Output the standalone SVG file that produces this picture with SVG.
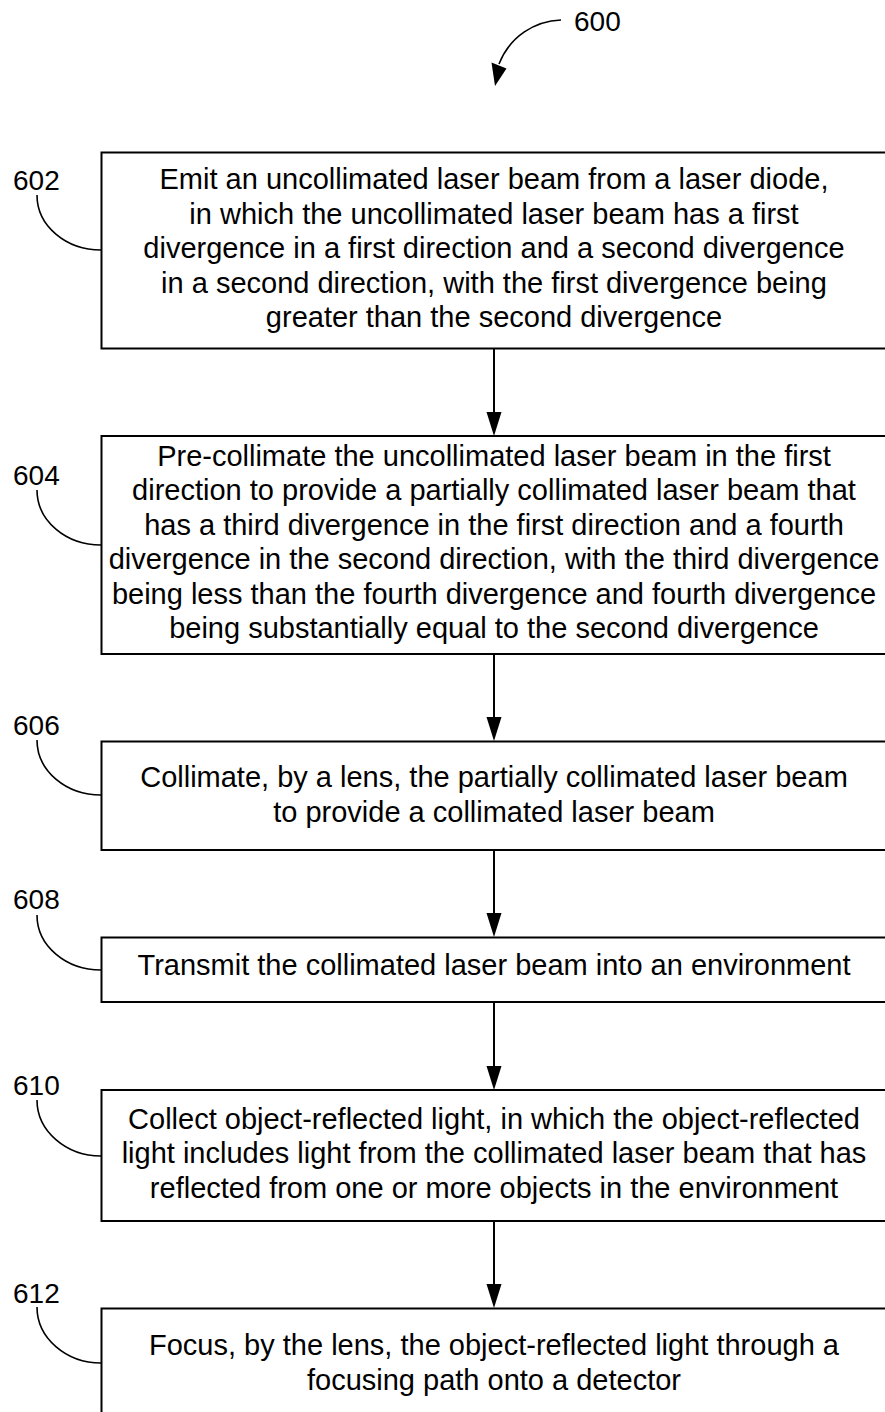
<svg xmlns="http://www.w3.org/2000/svg" width="885" height="1412" viewBox="0 0 885 1412">
<style>
.box{fill:#fff;stroke:#000;stroke-width:2}
.t{font-family:"Liberation Sans",Arial,sans-serif;font-size:29px;text-anchor:middle;fill:#000}
.lbl{font-family:"Liberation Sans",Arial,sans-serif;font-size:28px;fill:#000}
.lead{fill:none;stroke:#000;stroke-width:1.6}
.conn{stroke:#000;stroke-width:2;fill:none}
</style>
<defs>
<marker id="ah" markerWidth="15" markerHeight="24" refX="7.5" refY="24" orient="auto-start-reverse" markerUnits="userSpaceOnUse" viewBox="0 0 15 24">
<path d="M0,0 L15,0 L7.5,24 Z" fill="#000"/>
</marker>
</defs>
<rect width="885" height="1412" fill="#fff"/>

<g id="ref600">
<text class="lbl" x="574" y="31">600</text>
<path class="lead" d="M561,20 C535,21 510,36 499,64" stroke-width="2.2"/>
<polygon points="491.5,62.5 506.5,68.5 495,86" fill="#000"/>
</g>

<g id="connectors">
<line class="conn" x1="494" y1="348" x2="494" y2="413"/>
<polygon points="486.5,412 501.5,412 494,436" fill="#000"/>
<line class="conn" x1="494" y1="654" x2="494" y2="718"/>
<polygon points="486.5,717 501.5,717 494,741" fill="#000"/>
<line class="conn" x1="494" y1="850" x2="494" y2="914"/>
<polygon points="486.5,913 501.5,913 494,937" fill="#000"/>
<line class="conn" x1="494" y1="1002" x2="494" y2="1067"/>
<polygon points="486.5,1066 501.5,1066 494,1090" fill="#000"/>
<line class="conn" x1="494" y1="1221" x2="494" y2="1285"/>
<polygon points="486.5,1284 501.5,1284 494,1308" fill="#000"/>
</g>

<g id="n602">
<rect class="box" x="101.5" y="152.5" width="800" height="196"/>
<text class="lbl" x="13" y="190">602</text>
<path class="lead" d="M37,195 C37,226 66,250 101,250"/>
<text class="t" x="494" y="189">Emit an uncollimated laser beam from a laser diode,</text>
<text class="t" x="494" y="224">in which the uncollimated laser beam has a first</text>
<text class="t" x="494" y="258">divergence in a first direction and a second divergence</text>
<text class="t" x="494" y="293">in a second direction, with the first divergence being</text>
<text class="t" x="494" y="327">greater than the second divergence</text>
</g>

<g id="n604">
<rect class="box" x="101.5" y="436" width="800" height="218"/>
<text class="lbl" x="13" y="485">604</text>
<path class="lead" d="M37,490 C37,521 66,545 101,545"/>
<text class="t" x="494" y="466">Pre-collimate the uncollimated laser beam in the first</text>
<text class="t" x="494" y="500">direction to provide a partially collimated laser beam that</text>
<text class="t" x="494" y="535">has a third divergence in the first direction and a fourth</text>
<text class="t" x="494" y="569">divergence in the second direction, with the third divergence</text>
<text class="t" x="494" y="604">being less than the fourth divergence and fourth divergence</text>
<text class="t" x="494" y="638">being substantially equal to the second divergence</text>
</g>

<g id="n606">
<rect class="box" x="101.5" y="741.5" width="800" height="108.5"/>
<text class="lbl" x="13" y="735">606</text>
<path class="lead" d="M37,740 C37,771 66,795 101,795"/>
<text class="t" x="494" y="787">Collimate, by a lens, the partially collimated laser beam</text>
<text class="t" x="494" y="822">to provide a collimated laser beam</text>
</g>

<g id="n608">
<rect class="box" x="101.5" y="937.5" width="800" height="64.5"/>
<text class="lbl" x="13" y="909">608</text>
<path class="lead" d="M37,915 C37,946 66,970 101,970"/>
<text class="t" x="494" y="975">Transmit the collimated laser beam into an environment</text>
</g>

<g id="n610">
<rect class="box" x="101.5" y="1090" width="800" height="131"/>
<text class="lbl" x="13" y="1095">610</text>
<path class="lead" d="M37,1100 C37,1131 66,1156 101,1156"/>
<text class="t" x="494" y="1129">Collect object-reflected light, in which the object-reflected</text>
<text class="t" x="494" y="1163">light includes light from the collimated laser beam that has</text>
<text class="t" x="494" y="1198">reflected from one or more objects in the environment</text>
</g>

<g id="n612">
<rect class="box" x="101.5" y="1308.5" width="800" height="120"/>
<text class="lbl" x="13" y="1303">612</text>
<path class="lead" d="M37,1307 C37,1338 66,1363 101,1363"/>
<text class="t" x="494" y="1355">Focus, by the lens, the object-reflected light through a</text>
<text class="t" x="494" y="1390">focusing path onto a detector</text>
</g>
</svg>
